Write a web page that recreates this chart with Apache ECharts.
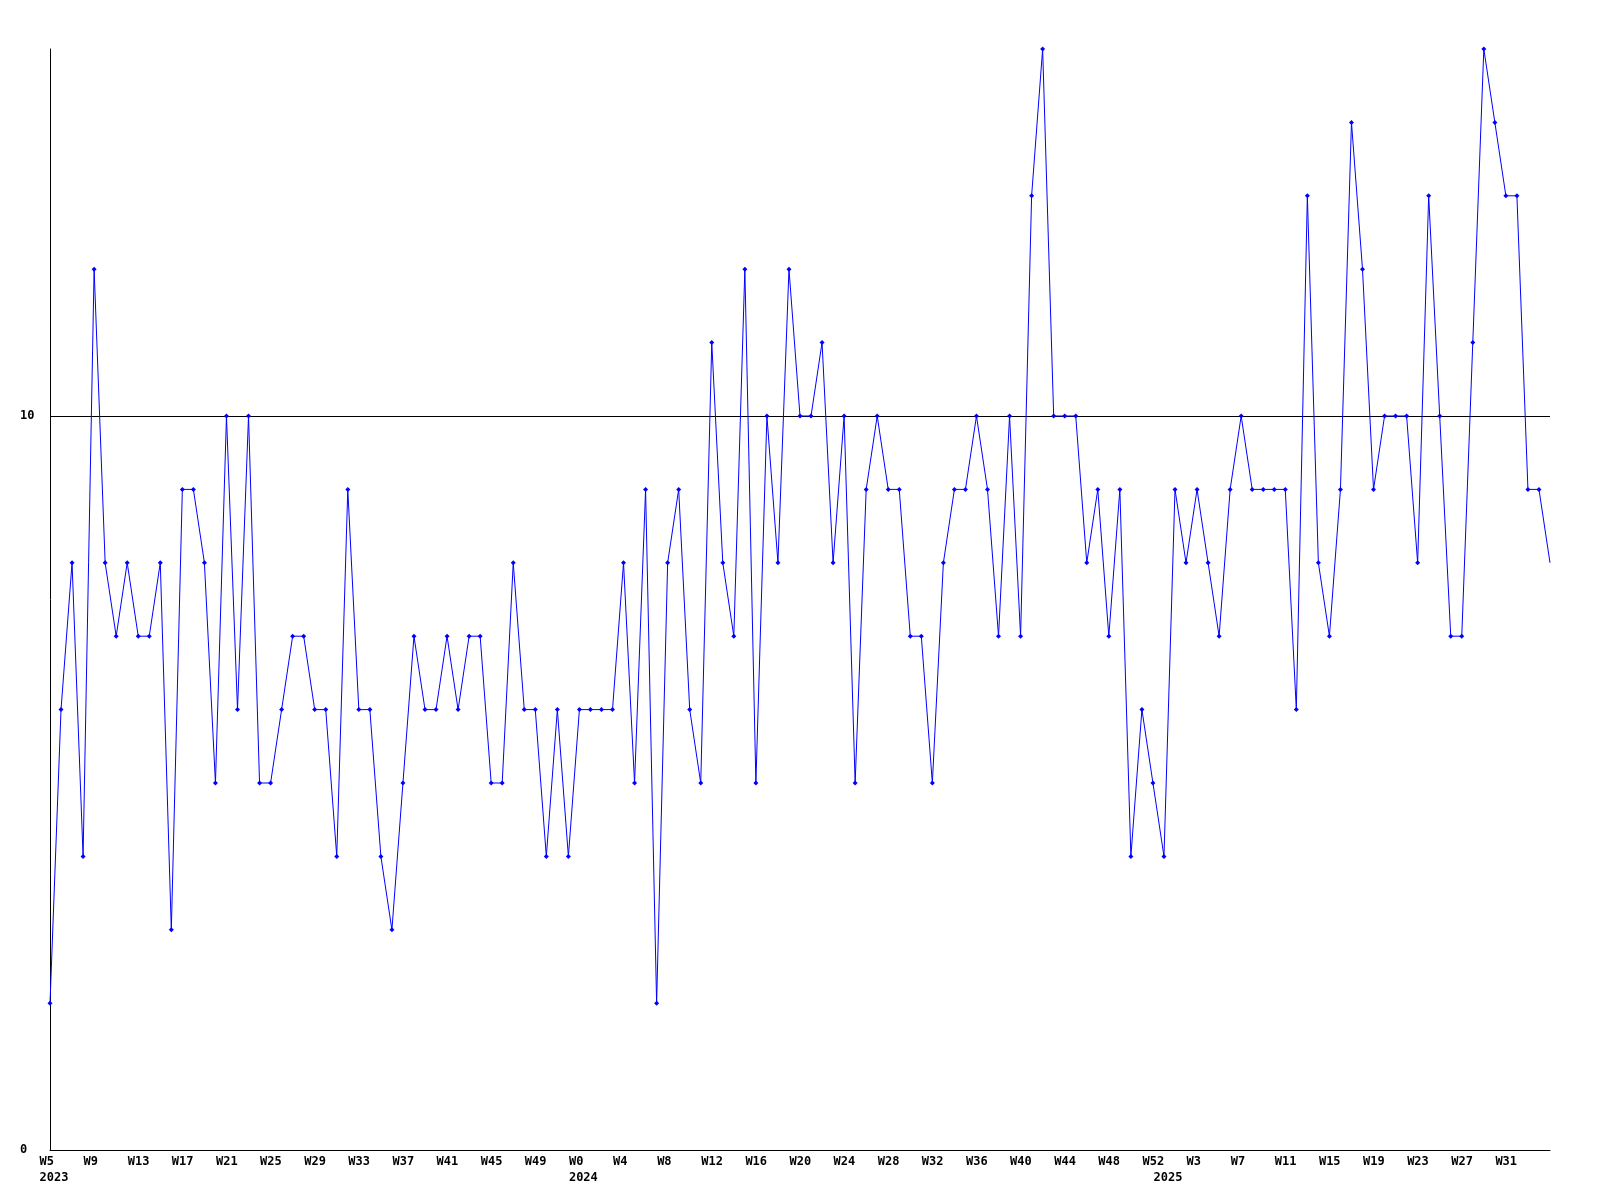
<!DOCTYPE html>
<html>
<head>
<meta charset="utf-8">
<script src="https://cdn.jsdelivr.net/npm/echarts@6/dist/echarts.min.js"></script>
<style>
html,body{margin:0;padding:0;background:#fff;}
#chart{width:1600px;height:1200px;}
</style>
</head>
<body>
<div id="chart"></div>
<script>
// Week tick labels (2023 W5 .. 2025 W35)
const weekLabels = [
 'W5','W6','W7','W8','W9','W10','W11','W12','W13','W14','W15','W16','W17','W18','W19','W20','W21','W22','W23','W24','W25','W26','W27','W28','W29','W30','W31','W32','W33','W34','W35','W36','W37','W38','W39','W40','W41','W42','W43','W44','W45','W46','W47','W48','W49','W50','W51','W52',
 'W0','W1','W2','W3','W4','W5','W6','W7','W8','W9','W10','W11','W12','W13','W14','W15','W16','W17','W18','W19','W20','W21','W22','W23','W24','W25','W26','W27','W28','W29','W30','W31','W32','W33','W34','W35','W36','W37','W38','W39','W40','W41','W42','W43','W44','W45','W46','W47','W48','W49','W50','W51','W52',
 'W0','W1','W2','W3','W4','W5','W6','W7','W8','W9','W10','W11','W12','W13','W14','W15','W16','W17','W18','W19','W20','W21','W22','W23','W24','W25','W26','W27','W28','W29','W30','W31','W32','W33','W34','W35'
];
// Year labels shown at the first week of each year
const yearMarks = { 0: '2023', 48: '2024', 101: '2025' };
// Weekly values
const values2023 = [2,6,8,4,12,8,7,8,7,7,8,3,9,9,8,5,10,6,10,5,5,6,7,7,6,6,4,9,6,6,4,3,5,7,6,6,7,6,7,7,5,5,8,6,6,4,6,4];
const values2024 = [6,6,6,6,8,5,9,2,8,9,6,5,11,8,7,12,5,10,8,12,10,10,11,8,10,5,9,10,9,9,7,7,5,8,9,9,10,9,7,10,7,13,15,10,10,10,8,9,7,9,4,6,5];
const values2025 = [4,9,8,9,8,7,9,10,9,9,9,9,6,13,8,7,9,14,12,9,10,10,10,8,13,10,7,7,11,15,14,13,13,9,9,8];
const yTicks = { min: 0, max: 15, step: 10 };

const values = values2023.concat(values2024, values2025);
const yearLabels = weekLabels.map((w, i) => yearMarks[i] || '');
const lastIdx = values.length - 1;

const chart = echarts.init(document.getElementById('chart'), null, {renderer: 'canvas'});
const font = {fontFamily: 'DejaVu Sans Mono', fontSize: 12, fontWeight: 'bold', color: '#000'};
const leftRich = {a: Object.assign({width: 21, align: 'left'}, font)};
chart.setOption({
  animation: false,
  backgroundColor: '#fff',
  grid: {left: 50, right: 50, top: 49, bottom: 50, containLabel: false},
  xAxis: [{
    type: 'category',
    data: weekLabels,
    boundaryGap: false,
    axisLine: {show: true, lineStyle: {color: '#000', width: 1}},
    axisTick: {show: false},
    splitLine: {show: false},
    axisLabel: Object.assign({
      margin: 6,
      align: 'center',
      interval: (i) => i % 4 === 0 && i !== lastIdx,
      formatter: (v) => '{a|' + v + '}',
      rich: leftRich
    }, font)
  }, {
    type: 'category',
    data: yearLabels,
    boundaryGap: false,
    position: 'bottom',
    offset: 16,
    axisLine: {show: false},
    axisTick: {show: false},
    splitLine: {show: false},
    axisLabel: Object.assign({
      margin: 6,
      align: 'center',
      interval: (i) => yearLabels[i] !== '',
      formatter: (v) => '{a|' + v + '}',
      rich: leftRich
    }, font)
  }],
  yAxis: {
    type: 'value',
    min: yTicks.min,
    max: yTicks.max,
    interval: yTicks.step,
    axisLine: {show: true, lineStyle: {color: '#000', width: 1}},
    axisTick: {show: false},
    splitLine: {show: true, lineStyle: {color: ['#000', '#000', 'rgba(0,0,0,0)'], width: 1}},
    axisLabel: Object.assign({
      align: 'left',
      margin: 30,
      showMaxLabel: false
    }, font)
  },
  series: [{
    type: 'line',
    data: values.map((v, i) => i === lastIdx ? {value: v, symbol: 'none'} : v),
    xAxisIndex: 0,
    symbol: 'diamond',
    symbolSize: 5,
    showAllSymbol: true,
    lineStyle: {color: '#0000ff', width: 1},
    itemStyle: {color: '#0000ff'}
  }]
});
</script>
</body>
</html>
